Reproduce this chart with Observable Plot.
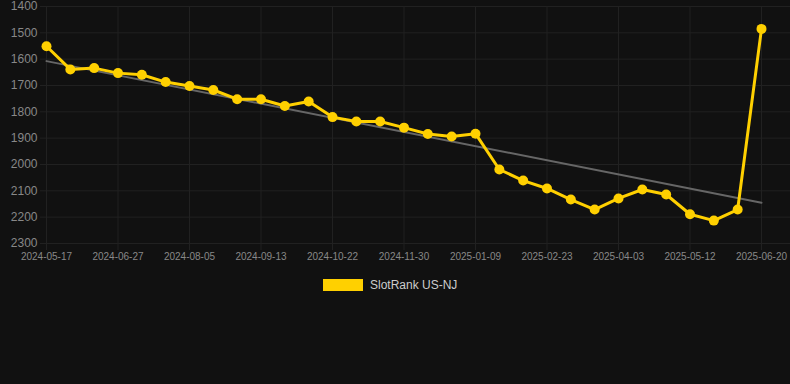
<!DOCTYPE html>
<html><head><meta charset="utf-8">
<script src="https://cdn.jsdelivr.net/npm/d3@7"></script>
<script src="https://cdn.jsdelivr.net/npm/@observablehq/plot@0.6"></script>
<style>
html,body{margin:0;padding:0;background:#111111;}
#chart{width:790px;height:384px;position:relative;overflow:hidden;font-family:"Liberation Sans",Arial,sans-serif;}
.legend{position:absolute;top:278px;left:323px;display:flex;align-items:center;gap:7px;font-size:12px;color:#cccccc;}
.sw{width:40px;height:12px;background:#ffd000;}
</style></head><body><div id="chart"></div>
<script>
const dates = ["2024-05-17","2024-05-31","2024-06-13","2024-06-27","2024-07-10","2024-07-23","2024-08-05","2024-08-18","2024-08-31","2024-09-13","2024-09-26","2024-10-09","2024-10-22","2024-11-04","2024-11-17","2024-11-30","2024-12-13","2024-12-26","2025-01-09","2025-01-24","2025-02-08","2025-02-23","2025-03-08","2025-03-21","2025-04-03","2025-04-16","2025-04-29","2025-05-12","2025-05-25","2025-06-07","2025-06-20"];
const ranks = [1551,1639,1634,1653,1659,1687,1702,1717,1752,1752,1778,1761,1820,1837,1837,1860,1884,1894,1883,2019,2061,2091,2133,2171,2129,2095,2114,2189,2213,2171,1485];
const yTicks = [1400,1500,1600,1700,1800,1900,2000,2100,2200,2300];
const xTickLabels = ["2024-05-17","2024-06-27","2024-08-05","2024-09-13","2024-10-22","2024-11-30","2025-01-09","2025-02-23","2025-04-03","2025-05-12","2025-06-20"];
const seriesName = "SlotRank US-NJ";

const data = dates.map((d, i) => ({i, date: d, rank: ranks[i]}));
const xTicks = xTickLabels.map(l => dates.indexOf(l));

const chart = Plot.plot({
  width: 790,
  height: 270,
  marginTop: 6,
  marginBottom: 27,
  marginLeft: 40,
  marginRight: 0,
  style: {background: "transparent", fontFamily: "'Liberation Sans', Arial, sans-serif"},
  x: {domain: [0, dates.length - 1], insetLeft: 6, insetRight: 29},
  y: {domain: [1400, 2300], reverse: true},
  marks: [
    Plot.gridY(yTicks, {stroke: "#212121", strokeOpacity: 1, strokeWidth: 1}),
    Plot.gridX(xTicks, {stroke: "#212121", strokeOpacity: 1, strokeWidth: 1}),
    Plot.axisY(yTicks, {tickSize: 0, tickPadding: 3, fontSize: 12, color: "#888888", tickFormat: d => String(d), label: null}),
    Plot.axisX(xTicks, {tickSize: 7, tickPadding: 2, fontSize: 10, color: "#888888", stroke: "#212121", tickFormat: i => dates[i], label: null}),
    Plot.linearRegressionY(data, {x: "i", y: "rank", stroke: "#666666", strokeWidth: 2, ci: 0}),
    Plot.line(data, {x: "i", y: "rank", stroke: "#ffd000", strokeWidth: 3}),
    Plot.dot(data, {x: "i", y: "rank", fill: "#ffd000", r: 5})
  ]
});
const root = document.getElementById("chart");
root.appendChild(chart);
const lg = document.createElement("div");
lg.className = "legend";
lg.innerHTML = '<div class="sw"></div><span></span>';
lg.querySelector("span").textContent = seriesName;
root.appendChild(lg);
</script>
</body></html>
